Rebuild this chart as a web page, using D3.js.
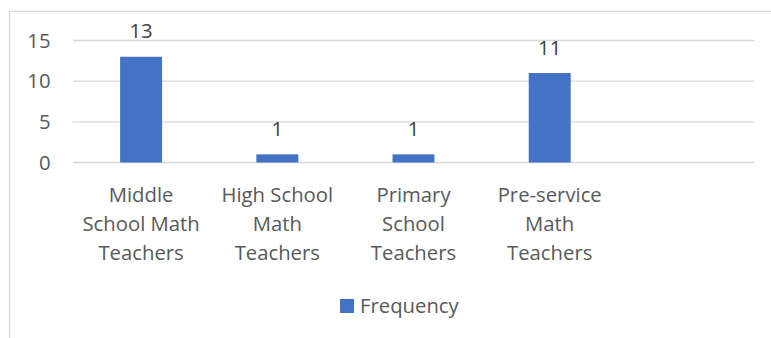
<!DOCTYPE html>
<html>
<head>
<meta charset="utf-8">
<script src="https://cdn.jsdelivr.net/npm/d3@7/dist/d3.min.js"></script>
<style>
  html, body { margin: 0; padding: 0; background: #ffffff; }
  svg { display: block; }
  text { font-family: "Open Sans", "Noto Sans", sans-serif; }
</style>
</head>
<body>
<div id="chart"></div>
<script>
// Respondent groups and how many respondents fell in each
const categories = ["Middle School Math Teachers", "High School Math Teachers", "Primary School Teachers", "Pre-service Math Teachers", ""];
const categoryLines = [
  ["Middle", "School Math", "Teachers"],
  ["High School", "Math", "Teachers"],
  ["Primary", "School", "Teachers"],
  ["Pre-service", "Math", "Teachers"],
  []
];
const frequency = [13, 1, 1, 11, null];
const yTicks = [0, 5, 10, 15];
const seriesName = "Frequency";

const width = 771, height = 338;
const barColor = "#4472C4";
const gridColor = "#d9d9d9";
const axisText = "#595959";
const fontSize = 20.3;

const svg = d3.select("#chart").append("svg")
  .attr("width", width)
  .attr("height", height);

// chart area outline (top and left edges visible)
svg.append("rect")
  .attr("x", 9.5).attr("y", 11.5)
  .attr("width", width + 10).attr("height", height + 10)
  .attr("fill", "none")
  .attr("stroke", gridColor)
  .attr("stroke-width", 1.3);

const plot = { left: 73, right: 754, top: 40.5, bottom: 162.5 };

const x = d3.scaleBand()
  .domain(categories.map((d, i) => i))
  .range([plot.left, plot.right])
  .paddingInner(0.692)
  .paddingOuter(0.346);

const y = d3.scaleLinear()
  .domain([0, 15])
  .range([plot.bottom, plot.top]);

// horizontal gridlines
svg.append("g")
  .selectAll("line")
  .data(yTicks)
  .join("line")
  .attr("x1", plot.left).attr("x2", plot.right)
  .attr("y1", d => y(d)).attr("y2", d => y(d))
  .attr("stroke", gridColor)
  .attr("stroke-width", 1.3);

// y axis labels
const yAxis = d3.axisLeft(y).tickValues(yTicks).tickSize(0).tickPadding(0);
const yg = svg.append("g")
  .attr("transform", "translate(50.5,0)")
  .call(yAxis);
yg.select(".domain").remove();
yg.selectAll("text")
  .attr("font-size", fontSize)
  .attr("font-family", "Open Sans")
  .attr("fill", axisText);

const data = categories.map((c, i) => ({ i, c, v: frequency[i], lines: categoryLines[i] }));

// bars
svg.append("g")
  .selectAll("rect")
  .data(data.filter(d => d.v != null))
  .join("rect")
  .attr("x", d => x(d.i))
  .attr("width", x.bandwidth())
  .attr("y", d => y(d.v))
  .attr("height", d => y(0) - y(d.v))
  .attr("fill", barColor);

// value labels
svg.append("g")
  .selectAll("text")
  .data(data.filter(d => d.v != null))
  .join("text")
  .attr("x", d => x(d.i) + x.bandwidth() / 2)
  .attr("y", d => y(d.v) - 18.5)
  .attr("text-anchor", "middle")
  .attr("font-size", fontSize)
  .attr("fill", "#404040")
  .text(d => d.v);

// category labels
const catG = svg.append("g")
  .selectAll("text")
  .data(data)
  .join("text")
  .attr("x", d => x(d.i) + x.bandwidth() / 2)
  .attr("y", 201.5)
  .attr("text-anchor", "middle")
  .attr("font-size", fontSize)
  .attr("fill", axisText);
catG.selectAll("tspan")
  .data(d => d.lines.map(l => ({ l, cx: x(d.i) + x.bandwidth() / 2 })))
  .join("tspan")
  .attr("x", d => d.cx)
  .attr("dy", (d, i) => i === 0 ? 0 : 29.2)
  .text(d => d.l);

// legend
const legend = svg.append("g");
legend.append("rect")
  .attr("x", 340).attr("y", 299)
  .attr("width", 14).attr("height", 14)
  .attr("fill", barColor);
legend.append("text")
  .attr("x", 360).attr("y", 313)
  .attr("font-size", fontSize)
  .attr("fill", axisText)
  .text(seriesName);
</script>
</body>
</html>
